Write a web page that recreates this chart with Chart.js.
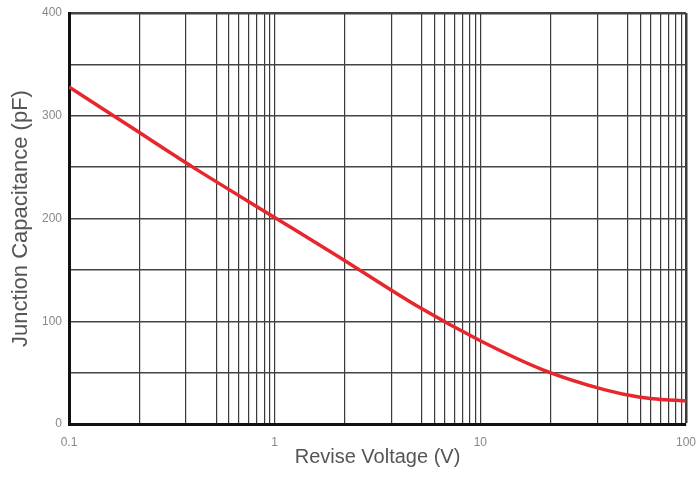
<!DOCTYPE html>
<html>
<head>
<meta charset="utf-8">
<script src="https://cdn.jsdelivr.net/npm/chart.js@4"></script>
<style>
  html, body { margin: 0; padding: 0; background: #fff; }
  #wrap { width: 696px; height: 484px; position: relative; }
</style>
</head>
<body>
<div id="wrap"><canvas id="c"></canvas></div>
<script>
// Junction capacitance versus reverse voltage
const voltage = [0.1, 0.2, 0.4, 1, 2, 5, 10, 20, 40, 60, 80, 100];
const capacitance = [328, 289, 250, 201, 164, 114, 81, 53, 33.5, 26, 23.5, 22.5];

// Vertical grid lines inside each decade
const decadeStarts = [0.1, 1, 10];
const gridSteps = [1, 2.2, 3.7, 5.2, 6, 6.7, 7.5, 8.2, 8.9, 9.5];
const xTickLabels = [0.1, 1, 10, 100];
const yTickLabels = [0, 100, 200, 300, 400];

const xGridValues = decadeStarts
  .flatMap(d => gridSteps.map(s => +(d * s).toPrecision(3)))
  .concat([100]);

const FONT = "'Liberation Sans', Arial, sans-serif";

new Chart(document.getElementById('c'), {
  type: 'line',
  data: {
    datasets: [{
      data: voltage.map((v, i) => ({ x: v, y: capacitance[i] })),
      borderColor: '#e8262e',
      borderWidth: 3.5,
      pointRadius: 0,
      cubicInterpolationMode: 'monotone',
      fill: false
    }]
  },
  options: {
    responsive: true,
    maintainAspectRatio: false,
    animation: false,
    devicePixelRatio: 1,
    layout: { padding: { top: 13, right: 10, left: 0, bottom: 0 } },
    plugins: { legend: { display: false }, tooltip: { enabled: false } },
    scales: {
      x: {
        type: 'logarithmic',
        min: 0.1,
        max: 100,
        afterBuildTicks: s => { s.ticks = xGridValues.map(v => ({ value: v })); },
        afterFit: s => { s.height = 60; s.paddingLeft = 0; s.paddingRight = 0; },
        ticks: {
          autoSkip: false,
          maxRotation: 0,
          padding: 11,
          color: '#888',
          font: { family: FONT, size: 12 },
          callback: v => xTickLabels.includes(v) ? String(v) : ''
        },
        grid: {
          color: '#3a3a3a',
          lineWidth: ctx => (ctx.tick && ctx.tick.value === 100) ? 2.5 : 1.2,
          drawTicks: false
        },
        border: { color: '#111', width: 3 },
        title: {
          display: true,
          text: 'Revise Voltage (V)',
          color: '#555',
          font: { family: FONT, size: 20 },
          padding: { top: 0, bottom: 15 }
        }
      },
      y: {
        min: 0,
        max: 400,
        afterFit: s => { s.width = 69; s.paddingTop = 0; s.paddingBottom = 0; },
        ticks: {
          stepSize: 50,
          padding: 7,
          color: '#888',
          font: { family: FONT, size: 12 },
          callback: v => yTickLabels.includes(v) ? String(v) : ''
        },
        grid: {
          color: '#444',
          lineWidth: ctx => (ctx.tick && ctx.tick.value === 400) ? 2.5 : 1.5,
          drawTicks: false
        },
        border: { color: '#111', width: 3 },
        title: {
          display: true,
          text: 'Junction Capacitance (pF)',
          color: '#555',
          font: { family: FONT, size: 22 },
          padding: { top: 8, bottom: 0 }
        }
      }
    }
  }
});
</script>
</body>
</html>
